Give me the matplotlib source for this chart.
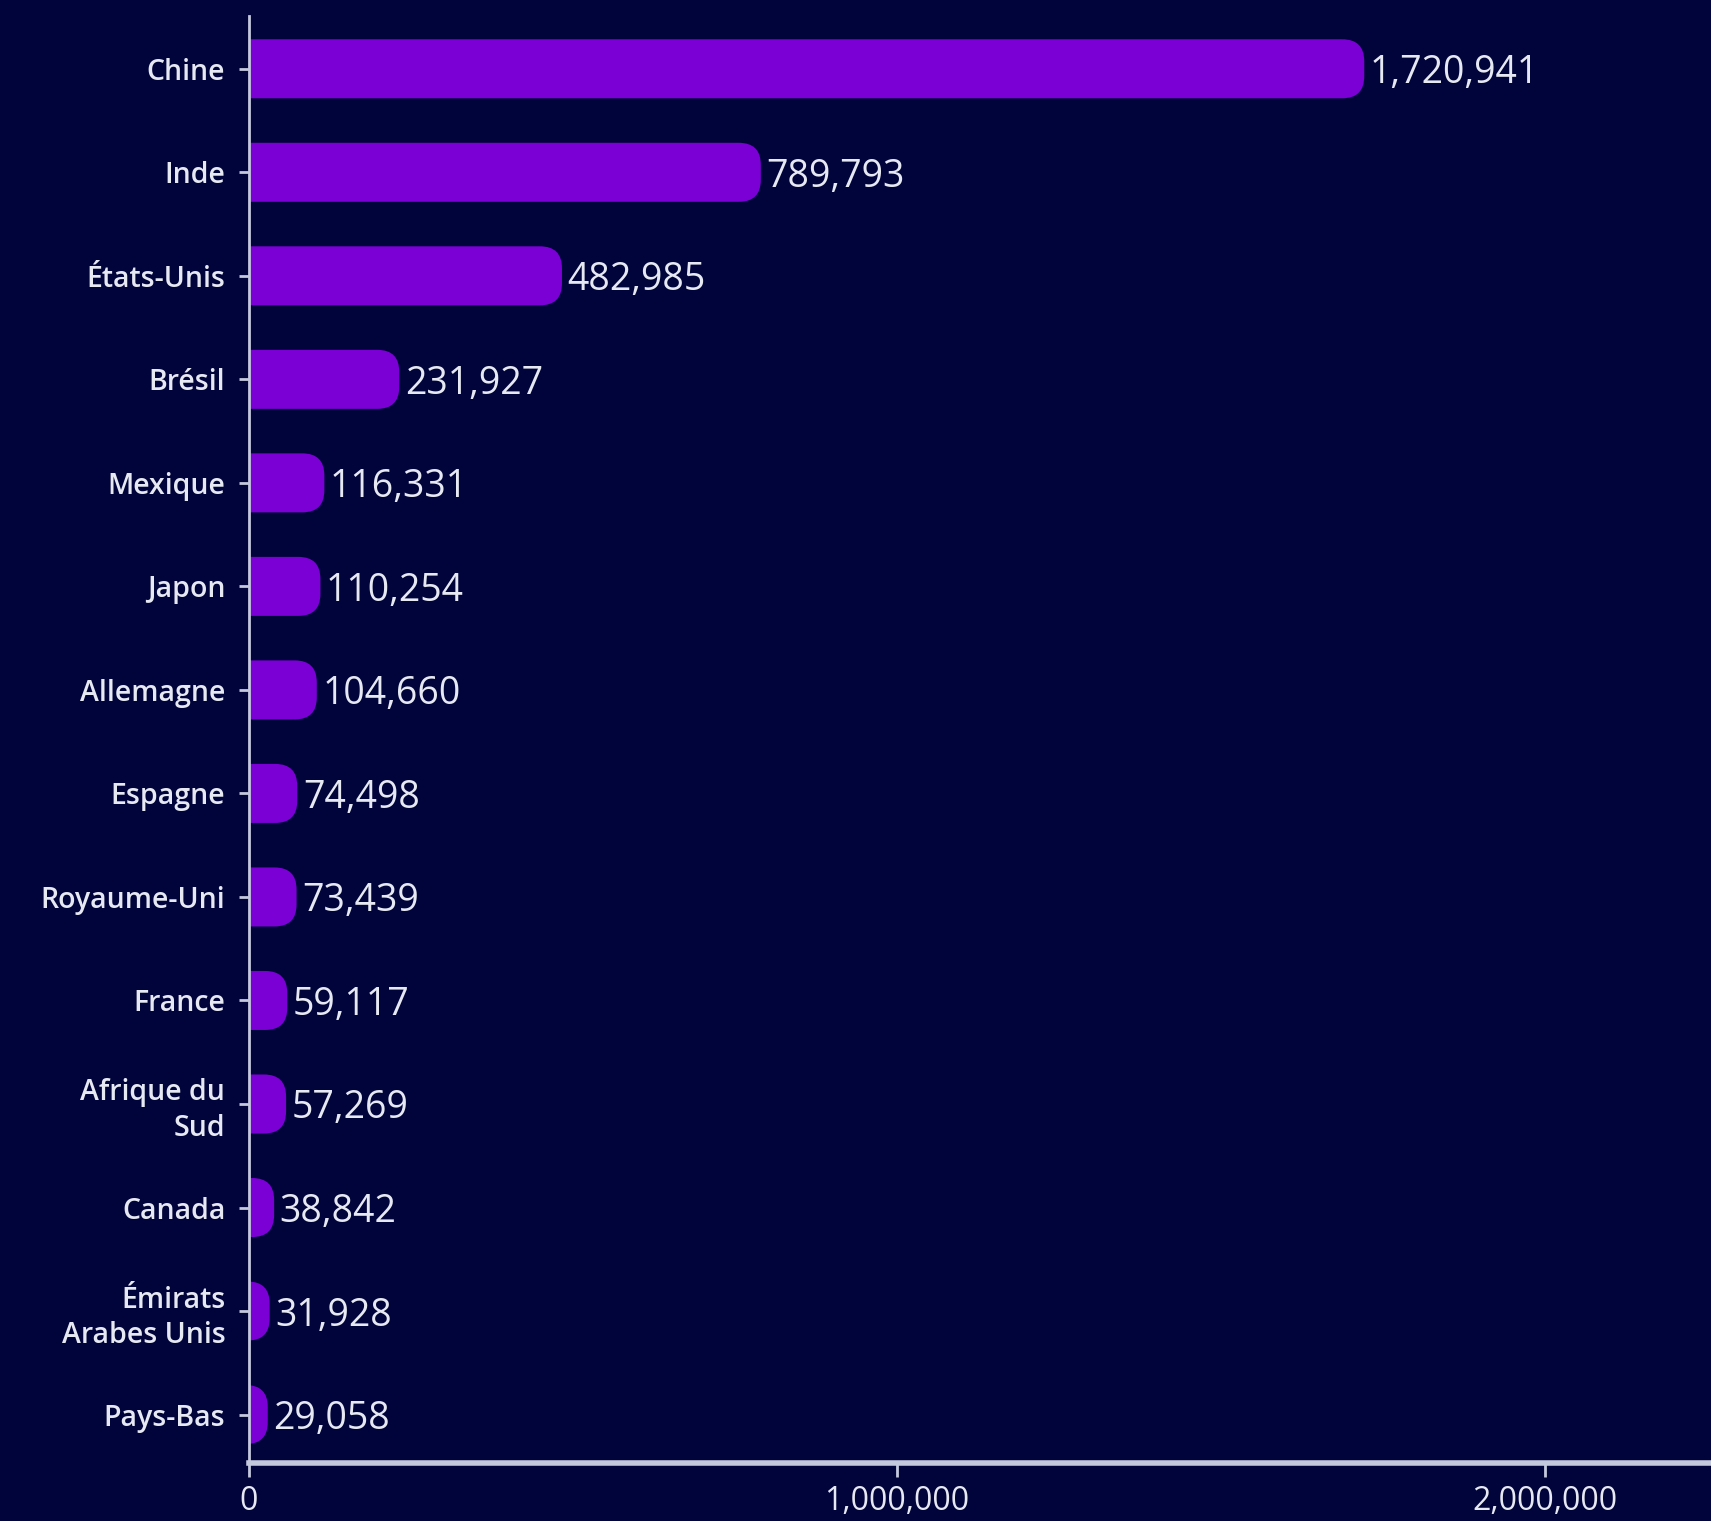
import matplotlib
matplotlib.use("Agg")
import matplotlib.pyplot as plt
from matplotlib.patches import FancyBboxPatch
from matplotlib.ticker import FuncFormatter

# Data
countries = ["Chine", "Inde", "États-Unis", "Brésil", "Mexique", "Japon",
             "Allemagne", "Espagne", "Royaume-Uni", "France",
             "Afrique du\nSud", "Canada", "Émirats\nArabes Unis", "Pays-Bas"]
values = [1720941, 789793, 482985, 231927, 116331, 110254, 104660,
          74498, 73439, 59117, 57269, 38842, 31928, 29058]
xticks = [0, 1000000, 2000000]

BG = "#01043a"
BAR = "#7b00d6"
FG = "#e6e8f2"
AXIS = "#c5c9de"

plt.rcParams["font.family"] = ["Open Sans", "DejaVu Sans"]

fig = plt.figure(figsize=(17.11, 15.21), dpi=100, facecolor=BG)
ax = fig.add_axes([0.1455, 0.038, 0.8545, 0.9515])
ax.set_facecolor(BG)

n = len(countries)
ax.set_xlim(0, 2.256e6)
ax.set_ylim(n - 0.53, -0.51)

# pixel -> data scale, used for round bar ends
fig.canvas.draw()
inv = ax.transData.inverted()
p0 = inv.transform((0, 0))
p1 = inv.transform((1, 1))
x_per_px = abs(p1[0] - p0[0])
y_per_px = abs(p1[1] - p0[1])

bar_h = 0.57
radius_px = 22
rx = radius_px * x_per_px

for i, (c, v) in enumerate(zip(countries, values)):
    # start left of zero so only the right end shows rounding
    box = FancyBboxPatch((-rx, i - bar_h / 2), v + rx, bar_h,
                         boxstyle=f"round,pad=0,rounding_size={rx}",
                         mutation_aspect=y_per_px / x_per_px,
                         facecolor=BAR, edgecolor="none", zorder=2)
    ax.add_patch(box)
    ax.annotate(f"{v:,}", xy=(v, i), xytext=(4, 0), textcoords="offset points",
                va="center_baseline", ha="left", fontsize=27,
                fontweight="medium", color=FG, zorder=3)

ax.set_yticks(range(n))
ax.set_yticklabels(countries, fontsize=20.5, fontweight="semibold", color=FG,
                   linespacing=1.3)
ax.set_xticks(xticks)
ax.xaxis.set_major_formatter(FuncFormatter(lambda x, p: f"{int(x):,}"))
ax.tick_params(axis="x", colors=AXIS, labelcolor=FG, labelsize=23,
               length=10, width=2, pad=6)
ax.tick_params(axis="y", colors=AXIS, labelcolor=FG, length=7, width=2,
               pad=10)

for side in ["top", "right"]:
    ax.spines[side].set_visible(False)
ax.spines["left"].set_color(AXIS)
ax.spines["left"].set_linewidth(2)
ax.spines["bottom"].set_color(AXIS)
ax.spines["bottom"].set_linewidth(4)

fig.savefig("out.png", dpi=100, facecolor=BG)
